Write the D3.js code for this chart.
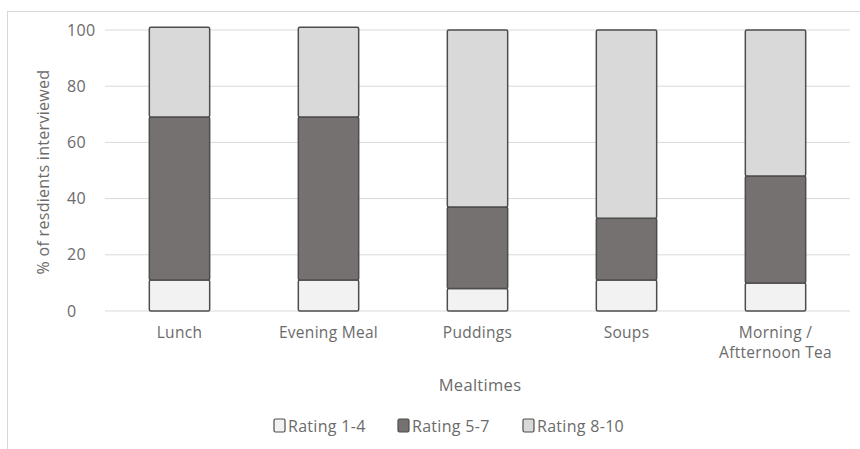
<!DOCTYPE html>
<html>
<head>
<meta charset="utf-8">
<script src="https://cdn.jsdelivr.net/npm/d3@7"></script>
<style>
  body { margin: 0; background: #fff; }
  text { font-family: 'Open Sans', sans-serif; fill: #6b6b6b; letter-spacing: 0.3px; }
</style>
</head>
<body>
<div id="chart"></div>
<script>
// Data
const categories = ['Lunch', 'Evening Meal', 'Puddings', 'Soups', 'Morning / Aftternoon Tea'];
const categoryLines = [['Lunch'], ['Evening Meal'], ['Puddings'], ['Soups'], ['Morning /', 'Aftternoon Tea']];
const seriesNames = ['Rating 1-4', 'Rating 5-7', 'Rating 8-10'];
const rating14 = [11, 11, 8, 11, 10];
const rating57 = [58, 58, 29, 22, 38];
const rating810 = [32, 32, 63, 67, 52];
const yTicks = [0, 20, 40, 60, 80, 100];
const colors = ['#f2f2f2', '#767171', '#d9d9d9'];

const width = 860;
const height = 449;
const margin = { top: 30, right: 10, bottom: 138, left: 105 };
const innerW = width - margin.left - margin.right;
const innerH = height - margin.top - margin.bottom;

const svg = d3.select('#chart').append('svg')
  .attr('width', width)
  .attr('height', height);

// outer chart frame
svg.append('rect')
  .attr('x', 7.5).attr('y', 11.5)
  .attr('width', width).attr('height', height)
  .attr('fill', 'none').attr('stroke', '#d9d9d9');

const g = svg.append('g').attr('transform', `translate(${margin.left},${margin.top})`);

const x = d3.scaleBand().domain(categories).range([0, innerW]).paddingInner(0.595).paddingOuter(0.2975);
const y = d3.scaleLinear().domain([0, 100]).range([innerH, 0]);

// gridlines
g.selectAll('.grid').data(yTicks).join('line')
  .attr('x1', 0).attr('x2', innerW)
  .attr('y1', d => y(d)).attr('y2', d => y(d))
  .attr('stroke', '#d9d9d9').attr('stroke-width', 1);

// y tick labels (left aligned, as in the picture)
g.selectAll('.ytick').data(yTicks).join('text')
  .attr('x', -38).attr('y', d => y(d))
  .attr('dy', '0.35em')
  .style('font-size', '16px')
  .text(d => d);

const rows = categories.map((c, i) => ({ cat: c, 'Rating 1-4': rating14[i], 'Rating 5-7': rating57[i], 'Rating 8-10': rating810[i] }));
const stacked = d3.stack().keys(seriesNames)(rows);

g.selectAll('.series').data(stacked).join('g')
  .attr('fill', (d, i) => colors[i])
  .selectAll('rect').data(d => d).join('rect')
  .attr('x', d => x(d.data.cat))
  .attr('width', x.bandwidth())
  .attr('y', d => y(d[1]))
  .attr('height', d => y(d[0]) - y(d[1]))
  .attr('stroke', '#4d4d4d')
  .attr('stroke-width', 1.5)
  .attr('rx', 1.5);

// category labels
const catLabels = g.selectAll('.cat').data(categories).join('text')
  .attr('x', d => x(d) + x.bandwidth() / 2)
  .attr('y', innerH + 27)
  .attr('text-anchor', 'middle')
  .style('font-size', '15.5px');
catLabels.selectAll('tspan').data((d, i) => categoryLines[i]).join('tspan')
  .attr('x', function () { return d3.select(this.parentNode).attr('x'); })
  .attr('dy', (d, i) => i === 0 ? 0 : 20)
  .text(d => d);

// axis titles
svg.append('text')
  .attr('x', 480).attr('y', 391)
  .attr('text-anchor', 'middle')
  .style('font-size', '16.5px')
  .text('Mealtimes');

svg.append('text')
  .attr('transform', 'translate(49,172) rotate(-90)')
  .attr('text-anchor', 'middle')
  .style('font-size', '16px')
  .text('% of resdients interviewed');

// legend
const legendX = [274, 398, 523];
const legend = svg.selectAll('.legend').data(seriesNames).join('g')
  .attr('transform', (d, i) => `translate(${legendX[i]},419)`);
legend.append('rect')
  .attr('width', 11).attr('height', 13)
  .attr('rx', 1.5)
  .attr('fill', (d, i) => colors[i])
  .attr('stroke', '#4d4d4d').attr('stroke-width', 1.2);
legend.append('text')
  .attr('x', 14).attr('y', 7)
  .attr('dy', '0.35em')
  .style('font-size', '16px')
  .text(d => d);
</script>
</body>
</html>
